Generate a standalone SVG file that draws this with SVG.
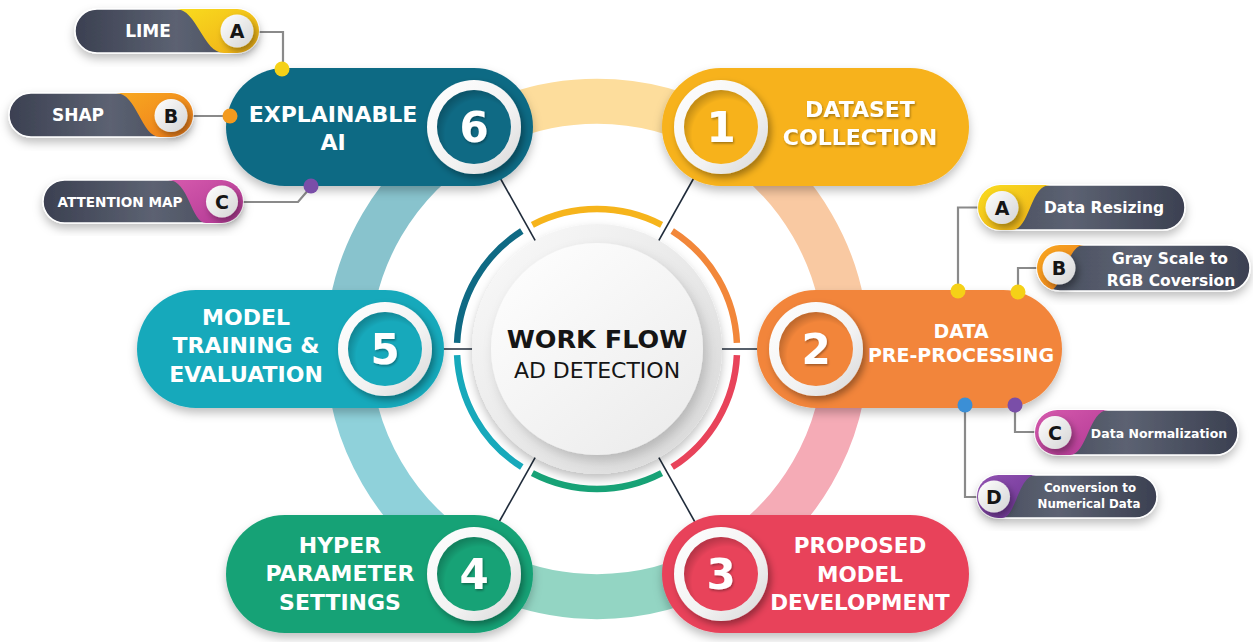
<svg xmlns="http://www.w3.org/2000/svg" width="1253" height="642" viewBox="0 0 1253 642">
  <defs>
    <style>
      .t { font-family: "DejaVu Sans", "Liberation Sans", sans-serif; font-weight: bold; fill: #ffffff; text-anchor: middle; }
      .ttl { font-size: 22px; }
      .num { font-size: 42px; }
      .sub { font-size: 17px; }
      .let { font-size: 19px; fill: #151515; }
      .ctr { font-family: "DejaVu Sans", "Liberation Sans", sans-serif; fill: #151515; text-anchor: middle; }
      .ln { stroke: #1f2b3a; stroke-width: 1.6; fill: none; }
      .cl { stroke: #8a8a8a; stroke-width: 2.2; fill: none; }
      .band { fill: none; stroke-width: 45; }
      .arc { fill: none; stroke-width: 6.5; }
      .pillbg { stroke: #ffffff; stroke-width: 1.5; }
    </style>
    <filter id="sh" x="-20%" y="-20%" width="140%" height="150%">
      <feDropShadow dx="0" dy="5" stdDeviation="5" flood-color="#000" flood-opacity="0.25"/>
    </filter>
    <filter id="sh2" x="-30%" y="-30%" width="160%" height="160%">
      <feDropShadow dx="3" dy="4" stdDeviation="3.5" flood-color="#000" flood-opacity="0.35"/>
    </filter>
    <filter id="sh3" x="-30%" y="-30%" width="160%" height="160%">
      <feDropShadow dx="4" dy="6" stdDeviation="6" flood-color="#000" flood-opacity="0.18"/>
    </filter>
    <filter id="ts" x="-20%" y="-20%" width="140%" height="150%">
      <feDropShadow dx="1" dy="1.5" stdDeviation="1" flood-color="#000" flood-opacity="0.35"/>
    </filter>
    <linearGradient id="ring" x1="0" y1="0" x2="1" y2="1">
      <stop offset="0" stop-color="#ffffff"/>
      <stop offset="0.6" stop-color="#f2f2f2"/>
      <stop offset="1" stop-color="#d6d6d6"/>
    </linearGradient>
    <radialGradient id="inset" cx="0.58" cy="0.6" r="0.6">
      <stop offset="0.78" stop-color="#000" stop-opacity="0"/>
      <stop offset="1" stop-color="#000" stop-opacity="0.2"/>
    </radialGradient>
    <linearGradient id="disc1" x1="0" y1="0" x2="1" y2="1">
      <stop offset="0" stop-color="#fbfbfb"/>
      <stop offset="1" stop-color="#d8d8d8"/>
    </linearGradient>
    <linearGradient id="disc2" x1="0" y1="0" x2="0.8" y2="1">
      <stop offset="0" stop-color="#ffffff"/>
      <stop offset="1" stop-color="#ececec"/>
    </linearGradient>
    <linearGradient id="letc" x1="0" y1="0" x2="1" y2="1">
      <stop offset="0" stop-color="#ffffff"/>
      <stop offset="1" stop-color="#d4d4d4"/>
    </linearGradient>
    <linearGradient id="darkL" x1="0" y1="0" x2="1" y2="0">
      <stop offset="0" stop-color="#3b4051"/>
      <stop offset="0.55" stop-color="#5c6272"/>
      <stop offset="1" stop-color="#444a5a"/>
    </linearGradient>
    <linearGradient id="darkR" x1="1" y1="0" x2="0" y2="0">
      <stop offset="0" stop-color="#3b4051"/>
      <stop offset="0.55" stop-color="#5c6272"/>
      <stop offset="1" stop-color="#444a5a"/>
    </linearGradient>
    <linearGradient id="gY" x1="0" y1="0" x2="1" y2="1">
      <stop offset="0" stop-color="#f9dc1e"/>
      <stop offset="1" stop-color="#efae18"/>
    </linearGradient>
    <linearGradient id="gO" x1="0" y1="0" x2="1" y2="1">
      <stop offset="0" stop-color="#f8a920"/>
      <stop offset="1" stop-color="#ee7c1c"/>
    </linearGradient>
    <linearGradient id="gM" x1="0" y1="0" x2="1" y2="1">
      <stop offset="0" stop-color="#d65aad"/>
      <stop offset="1" stop-color="#b13894"/>
    </linearGradient>
    <linearGradient id="gP" x1="0" y1="0" x2="1" y2="1">
      <stop offset="0" stop-color="#9352b3"/>
      <stop offset="1" stop-color="#6a3392"/>
    </linearGradient>
    <clipPath id="cLime"><rect x="75" y="9" width="184" height="44" rx="22"/></clipPath>
    <clipPath id="cShap"><rect x="9" y="93" width="184" height="44" rx="22"/></clipPath>
    <clipPath id="cAttn"><rect x="43" y="180" width="200" height="43" rx="21.5"/></clipPath>
    <clipPath id="cResz"><rect x="978" y="185" width="207" height="45" rx="22.5"/></clipPath>
    <clipPath id="cGray"><rect x="1037" y="245" width="213" height="46" rx="23"/></clipPath>
    <clipPath id="cNorm"><rect x="1035" y="410" width="203" height="45" rx="22.5"/></clipPath>
    <clipPath id="cConv"><rect x="977" y="475" width="180" height="43" rx="21.5"/></clipPath>
  </defs>

  <rect width="1253" height="642" fill="#ffffff"/>

  <!-- faded outer ring linking the six stages -->
  <g id="ring-band">
    <path class="band" stroke="#fddd9c" d="M721,134.4 A249,249 0 0 0 473,134.4"/>
    <path class="band" stroke="#f9c9a2" d="M846,349 A249,249 0 0 0 721,134.4"/>
    <path class="band" stroke="#f5abb6" d="M721,563.6 A249,249 0 0 0 846,349"/>
    <path class="band" stroke="#93d5c3" d="M473,563.6 A249,249 0 0 0 721,563.6"/>
    <path class="band" stroke="#8fd1da" d="M348,349 A249,249 0 0 0 473,563.6"/>
    <path class="band" stroke="#88c3cd" d="M473,134.4 A249,249 0 0 0 348,349"/>
  </g>

  <g id="connectors">
    <!-- spokes from the hub to each stage -->
    <line class="ln" x1="651.6" y1="253.3" x2="695.5" y2="175"/>
    <line class="ln" x1="542.4" y1="253.3" x2="498.5" y2="175"/>
    <line class="ln" x1="651.6" y1="444.7" x2="695.5" y2="523"/>
    <line class="ln" x1="542.4" y1="444.7" x2="498.5" y2="523"/>
    <line class="ln" x1="480" y1="349" x2="430" y2="349"/>
    <line class="ln" x1="714" y1="349" x2="770" y2="349"/>
    <!-- leader lines to the sub-step tags -->
    <polyline class="cl" points="252,32 283,32 283,68"/>
    <polyline class="cl" points="186,116 228,116"/>
    <polyline class="cl" points="236,202 298,202 310,188"/>
    <polyline class="cl" points="988,207.5 958,207.5 958,290"/>
    <polyline class="cl" points="1045,268 1018,268 1018,291"/>
    <polyline class="cl" points="1015,405 1015,432 1040,432"/>
    <polyline class="cl" points="965,405 965,497 980,497"/>
  </g>

  <g id="hub">
    <circle cx="597" cy="349" r="125" fill="url(#disc1)" filter="url(#sh)"/>
    <circle cx="597" cy="349" r="106" fill="url(#disc2)" filter="url(#sh3)"/>
    <path class="arc" stroke="#f2873a" d="M736.9,342.9 A140,140 0 0 0 672.2,230.9"/>
    <path class="arc" stroke="#f6b41b" d="M661.6,224.8 A140,140 0 0 0 532.4,224.8"/>
    <path class="arc" stroke="#0f6a84" d="M521.8,230.9 A140,140 0 0 0 457.1,342.9"/>
    <path class="arc" stroke="#17a9bb" d="M457.1,355.1 A140,140 0 0 0 521.8,467.1"/>
    <path class="arc" stroke="#17a276" d="M532.4,473.2 A140,140 0 0 0 661.6,473.2"/>
    <path class="arc" stroke="#e8435a" d="M672.2,467.1 A140,140 0 0 0 736.9,355.1"/>
    <text class="ctr" x="597" y="348" font-size="25.5" font-weight="bold">WORK FLOW</text>
    <text class="ctr" x="597" y="378" font-size="22">AD DETECTION</text>
  </g>

  <g id="node-1">
    <rect x="662" y="68" width="307" height="118" rx="59" fill="#f7b21b" filter="url(#sh)"/>
    <circle cx="721" cy="127" r="47" fill="url(#ring)" filter="url(#sh2)"/>
    <circle cx="721" cy="127" r="37" fill="#f7b21b"/>
    <circle cx="721" cy="127" r="37" fill="url(#inset)"/>
    <text class="t num" x="721" y="142" filter="url(#ts)">1</text>
    <text class="t ttl" x="860" y="117" filter="url(#ts)">DATASET</text>
    <text class="t ttl" x="860" y="145" filter="url(#ts)">COLLECTION</text>
  </g>

  <g id="node-2">
    <rect x="757" y="290" width="305" height="118" rx="59" fill="#f2853a" filter="url(#sh)"/>
    <circle cx="816" cy="349" r="47" fill="url(#ring)" filter="url(#sh2)"/>
    <circle cx="816" cy="349" r="37" fill="#f2853a"/>
    <circle cx="816" cy="349" r="37" fill="url(#inset)"/>
    <text class="t num" x="816" y="364" filter="url(#ts)">2</text>
    <text class="t" x="961" y="338" font-size="19">DATA</text>
    <text class="t" x="961" y="362" font-size="19">PRE-PROCESSING</text>
  </g>

  <g id="node-3">
    <rect x="662" y="515" width="307" height="118" rx="59" fill="#e8435a" filter="url(#sh)"/>
    <circle cx="721" cy="574" r="47" fill="url(#ring)" filter="url(#sh2)"/>
    <circle cx="721" cy="574" r="37" fill="#e8435a"/>
    <circle cx="721" cy="574" r="37" fill="url(#inset)"/>
    <text class="t num" x="721" y="589" filter="url(#ts)">3</text>
    <text class="t" x="860" y="553" font-size="21.5">PROPOSED</text>
    <text class="t" x="860" y="582" font-size="21.5">MODEL</text>
    <text class="t" x="860" y="610" font-size="21.5">DEVELOPMENT</text>
  </g>

  <g id="node-4">
    <rect x="226" y="515" width="307" height="118" rx="59" fill="#17a276" filter="url(#sh)"/>
    <circle cx="474" cy="574" r="47" fill="url(#ring)" filter="url(#sh2)"/>
    <circle cx="474" cy="574" r="37" fill="#17a276"/>
    <circle cx="474" cy="574" r="37" fill="url(#inset)"/>
    <text class="t num" x="474" y="589" filter="url(#ts)">4</text>
    <text class="t ttl" x="340" y="553">HYPER</text>
    <text class="t ttl" x="340" y="581">PARAMETER</text>
    <text class="t ttl" x="340" y="610">SETTINGS</text>
  </g>

  <g id="node-5">
    <rect x="137" y="290" width="307" height="118" rx="59" fill="#17a9bb" filter="url(#sh)"/>
    <circle cx="385" cy="349" r="47" fill="url(#ring)" filter="url(#sh2)"/>
    <circle cx="385" cy="349" r="37" fill="#17a9bb"/>
    <circle cx="385" cy="349" r="37" fill="url(#inset)"/>
    <text class="t num" x="385" y="364" filter="url(#ts)">5</text>
    <text class="t ttl" x="246" y="325">MODEL</text>
    <text class="t ttl" x="246" y="353">TRAINING &amp;</text>
    <text class="t ttl" x="246" y="382">EVALUATION</text>
  </g>

  <g id="node-6">
    <rect x="226" y="68" width="307" height="118" rx="59" fill="#0f6a84" filter="url(#sh)"/>
    <circle cx="474" cy="127" r="47" fill="url(#ring)" filter="url(#sh2)"/>
    <circle cx="474" cy="127" r="37" fill="#0f6a84"/>
    <circle cx="474" cy="127" r="37" fill="url(#inset)"/>
    <text class="t num" x="474" y="142" filter="url(#ts)">6</text>
    <text class="t ttl" x="333" y="122">EXPLAINABLE</text>
    <text class="t ttl" x="333" y="150">AI</text>
  </g>

  <!-- sub-step tags of stage 6 -->
  <g id="tag-lime">
    <rect class="pillbg" x="75" y="9" width="184" height="44" rx="22" fill="url(#darkL)" filter="url(#sh)"/>
    <path clip-path="url(#cLime)" fill="url(#gY)" d="M176,9 C197,9 203,53 224,53 L260,53 L260,9 Z"/>
    <circle cx="237" cy="31" r="16.5" fill="url(#letc)" filter="url(#sh2)"/>
    <text class="t let" x="237" y="38">A</text>
    <text class="t sub" x="148" y="37">LIME</text>
    <circle cx="282" cy="69" r="7.5" fill="#f5d117"/>
  </g>

  <g id="tag-shap">
    <rect class="pillbg" x="9" y="93" width="184" height="44" rx="22" fill="url(#darkL)" filter="url(#sh)"/>
    <path clip-path="url(#cShap)" fill="url(#gO)" d="M116,93 C137,93 141,137 160,137 L194,137 L194,93 Z"/>
    <circle cx="171" cy="115.5" r="16.5" fill="url(#letc)" filter="url(#sh2)"/>
    <text class="t let" x="171" y="122.5">B</text>
    <text class="t sub" x="78" y="121">SHAP</text>
    <circle cx="230" cy="116" r="7.5" fill="#f39a1e"/>
  </g>

  <g id="tag-attention">
    <rect class="pillbg" x="43" y="180" width="200" height="43" rx="21.5" fill="url(#darkL)" filter="url(#sh)"/>
    <path clip-path="url(#cAttn)" fill="url(#gM)" d="M168,180 C189,180 191,223 206,223 L244,223 L244,180 Z"/>
    <circle cx="222" cy="201.5" r="16" fill="url(#letc)" filter="url(#sh2)"/>
    <text class="t let" x="222" y="208.5">C</text>
    <text class="t" x="120" y="206.5" font-size="13.6">ATTENTION MAP</text>
    <circle cx="311" cy="186" r="7.5" fill="#7a4ea8"/>
  </g>

  <!-- sub-step tags of stage 2 -->
  <g id="tag-resizing">
    <rect class="pillbg" x="978" y="185" width="207" height="45" rx="22.5" fill="url(#darkR)" filter="url(#sh)"/>
    <path clip-path="url(#cResz)" fill="url(#gY)" d="M1050,185 C1030,185 1030,230 1012,230 L977,230 L977,185 Z"/>
    <circle cx="1002" cy="207.5" r="16.5" fill="url(#letc)" filter="url(#sh2)"/>
    <text class="t let" x="1002" y="214.5">A</text>
    <text class="t" x="1104" y="213" font-size="15.5">Data Resizing</text>
    <circle cx="958" cy="291" r="7.5" fill="#f5d117"/>
  </g>

  <g id="tag-grayscale">
    <rect class="pillbg" x="1037" y="245" width="213" height="46" rx="23" fill="url(#darkR)" filter="url(#sh)"/>
    <path clip-path="url(#cGray)" fill="url(#gO)" d="M1084,245 C1066,245 1064,291 1048,291 L1036,291 L1036,245 Z"/>
    <circle cx="1059" cy="268" r="16.5" fill="url(#letc)" filter="url(#sh2)"/>
    <text class="t let" x="1059" y="275">B</text>
    <text class="t" x="1170" y="264" font-size="15.5">Gray Scale to</text>
    <text class="t" x="1171" y="286" font-size="15.5">RGB Coversion</text>
    <circle cx="1018" cy="292" r="7.5" fill="#f5d117"/>
  </g>

  <g id="tag-normalization">
    <rect class="pillbg" x="1035" y="410" width="203" height="45" rx="22.5" fill="url(#darkR)" filter="url(#sh)"/>
    <path clip-path="url(#cNorm)" fill="url(#gM)" d="M1108,410 C1089,410 1087,455 1070,455 L1034,455 L1034,410 Z"/>
    <circle cx="1055" cy="432.5" r="16.5" fill="url(#letc)" filter="url(#sh2)"/>
    <text class="t let" x="1055" y="439.5">C</text>
    <text class="t" x="1159" y="438" font-size="12.5">Data Normalization</text>
    <circle cx="1015" cy="405" r="7.5" fill="#7a4ea8"/>
  </g>

  <g id="tag-numerical">
    <rect class="pillbg" x="977" y="475" width="180" height="43" rx="21.5" fill="url(#darkR)" filter="url(#sh)"/>
    <path clip-path="url(#cConv)" fill="url(#gP)" d="M1036,475 C1018,475 1016,518 1002,518 L976,518 L976,475 Z"/>
    <circle cx="994" cy="496.5" r="16" fill="url(#letc)" filter="url(#sh2)"/>
    <text class="t let" x="994" y="503.5">D</text>
    <text class="t" x="1090" y="492" font-size="11.8">Conversion to</text>
    <text class="t" x="1089" y="508" font-size="11.8">Numerical Data</text>
    <circle cx="965" cy="405" r="7.5" fill="#3b8fd6"/>
  </g>
</svg>
